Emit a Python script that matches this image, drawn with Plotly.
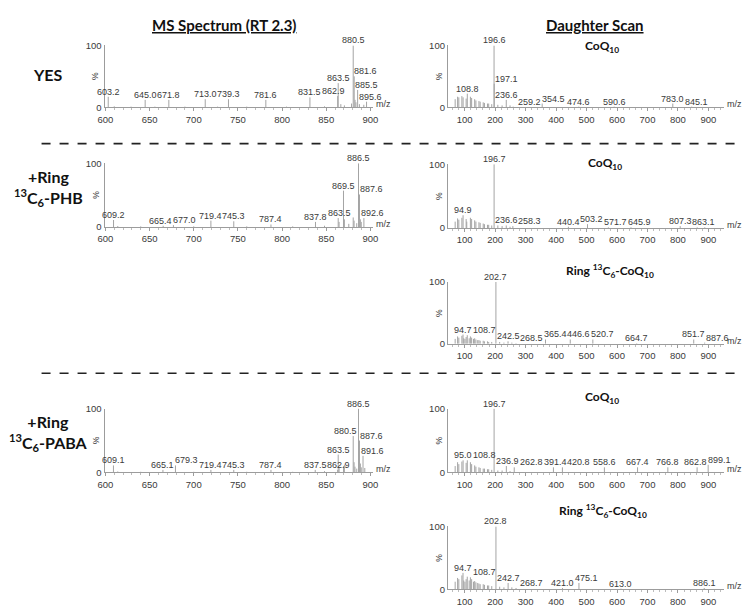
import plotly.graph_objects as go

# page is 755x615; the html body has an 8px margin, so the figure itself is 16px smaller
PAGE_W, PAGE_H, BODY = 755, 615, 8
W, H = PAGE_W - 2 * BODY, PAGE_H - 2 * BODY
SHIFT_X, SHIFT_Y = -2, -3


def PX(x):
    return (x + SHIFT_X - BODY) / W


def PY(y):
    return 1 - (y + SHIFT_Y - BODY) / H


# ---------------- data ----------------
# MS spectrum (RT 2.3), YES
ms_yes_mz = [603.2, 645.0, 671.8, 713.0, 739.3, 781.6, 831.5, 862.9, 863.5, 880.5, 881.6, 885.5, 895.6]
ms_yes_int = [17, 12, 12, 13, 13, 12, 16, 18, 39, 100, 50, 28, 9]
ms_yes_minor_mz = [610, 629, 656, 690, 727, 760, 805, 848, 866.5, 870.5, 878.6, 882.6, 883.6, 887.5, 892.5]
ms_yes_minor_int = [1.5, 1, 1, 1, 1, 1, 1, 1.5, 5, 3, 6, 12, 8, 5, 4]

# MS spectrum, +Ring 13C6-PHB
ms_phb_mz = [609.2, 665.4, 677.0, 719.4, 745.3, 787.4, 837.8, 863.5, 869.5, 886.5, 887.6, 892.6]
ms_phb_int = [11, 2, 3, 10, 9, 4, 8, 14, 57, 100, 51, 14]
ms_phb_minor_mz = [614, 640, 700, 760, 812, 848, 864.5, 870.5, 875.5, 880.5, 881.5, 884.5, 888.6, 889.6]
ms_phb_minor_int = [1.5, 1, 1, 1, 1, 2, 8, 12, 5, 15, 10, 6, 12, 8]

# MS spectrum, +Ring 13C6-PABA
ms_paba_mz = [609.1, 665.1, 679.3, 719.4, 745.3, 787.4, 837.5, 862.9, 863.5, 880.5, 886.5, 887.6, 891.6, 893.6]
ms_paba_int = [11, 4, 11, 4, 4, 4, 4, 4, 28, 57, 100, 50, 26, 7]
ms_paba_minor_mz = [614, 640, 700, 760, 812, 848, 864.5, 869.5, 870.5, 881.5, 882.5, 884.5, 888.6, 889.6]
ms_paba_minor_int = [1.5, 1, 1, 1, 1, 2, 8, 10, 12, 16, 9, 6, 14, 8]

# Daughter scan, YES, CoQ10
ds_yes_mz = [108.8, 196.6, 197.1, 236.6, 259.2, 354.5, 474.6, 590.6, 783.0, 845.1]
ds_yes_int = [22, 100, 38, 12, 1, 6, 1, 1, 6, 1]
ds_yes_minor_mz = [69, 77, 81, 91, 95, 105, 119, 123, 133, 137, 147, 151, 161, 165, 175, 179, 189, 209, 223, 249]
ds_yes_minor_int = [13, 17, 16, 18, 16, 14, 17, 15, 13, 11, 10, 9, 8, 7, 6, 6, 5, 4, 3, 3]

# Daughter scan, PHB, CoQ10
ds_phb_mz = [94.9, 196.7, 236.6, 258.3, 440.4, 503.2, 571.7, 645.9, 807.3, 863.1, 888.0]
ds_phb_int = [20, 100, 4, 3, 2, 6, 1, 1, 3, 1, 1]
ds_phb_minor_mz = [69, 77, 81, 91, 105, 107, 119, 123, 133, 137, 147, 151, 161, 165, 175, 179, 189, 209, 223, 249]
ds_phb_minor_int = [10, 15, 13, 16, 14, 10, 16, 14, 12, 10, 9, 8, 7, 6, 5, 5, 4, 4, 3, 2]

# Daughter scan, PHB, Ring 13C6-CoQ10
ds_phb_ring_mz = [94.7, 108.7, 202.7, 242.5, 268.5, 365.4, 446.6, 520.7, 664.7, 851.7, 887.6]
ds_phb_ring_int = [15, 14, 100, 4, 1, 7, 7, 7, 1, 7, 2]
ds_phb_ring_minor_mz = [69, 77, 81, 91, 97, 101, 105, 115, 119, 123, 129, 133, 137, 143, 147, 151, 161, 165, 175, 179, 189, 215, 229, 255]
ds_phb_ring_minor_int = [8, 12, 10, 13, 9, 8, 11, 9, 12, 10, 8, 9, 7, 6, 6, 5, 5, 4, 4, 3, 3, 3, 2, 2]

# Daughter scan, PABA, CoQ10
ds_paba_mz = [95.0, 108.8, 196.7, 236.9, 262.8, 391.4, 420.8, 558.6, 667.4, 766.8, 862.8, 899.1]
ds_paba_int = [19, 19, 100, 10, 8, 8, 8, 8, 8, 8, 8, 12]
ds_paba_minor_mz = [69, 77, 81, 91, 105, 119, 123, 133, 137, 147, 151, 161, 165, 175, 179, 189, 209, 223, 249]
ds_paba_minor_int = [10, 16, 13, 17, 15, 16, 13, 11, 9, 8, 7, 6, 6, 5, 5, 4, 3, 3, 2]

# Daughter scan, PABA, Ring 13C6-CoQ10
ds_paba_ring_mz = [94.7, 108.7, 202.8, 242.7, 268.7, 421.0, 475.1, 613.0, 886.1]
ds_paba_ring_int = [26, 20, 100, 10, 2, 2, 10, 1, 2]
ds_paba_ring_minor_mz = [69, 77, 81, 91, 97, 101, 105, 115, 119, 123, 129, 133, 137, 143, 147, 151, 161, 165, 175, 179, 189, 215, 229, 255]
ds_paba_ring_minor_int = [12, 18, 16, 22, 14, 12, 16, 14, 19, 16, 12, 13, 11, 10, 9, 8, 8, 7, 6, 6, 5, 4, 3, 3]

ms_ticks = [600, 650, 700, 750, 800, 850, 900]
ds_ticks = [100, 200, 300, 400, 500, 600, 700, 800, 900]

col_headers = ["MS Spectrum (RT 2.3)", "Daughter Scan"]
row_labels = ["YES", "+Ring<br><sup>13</sup>C<sub>6</sub>-PHB", "+Ring<br><sup>13</sup>C<sub>6</sub>-PABA"]
coq = "CoQ<sub>10</sub>"
ring_coq = "Ring <sup>13</sup>C<sub>6</sub>-CoQ<sub>10</sub>"

# ---------------- layout geometry (page pixels) ----------------
COL = {
    "L": dict(x0=101, x1=374, rng=[599, 903], ticks=ms_ticks, minor=10),
    "R": dict(x0=450, x1=731, rng=[45, 952], ticks=ds_ticks, minor=20),
}
# (mz, int, minor_mz, minor_int, column, px of 100-line, px of 0-line, title, title_x, title_y)
PANELS = [
    (ms_yes_mz, ms_yes_int, ms_yes_minor_mz, ms_yes_minor_int, "L", 43, 106, None, 0, 0),
    (ms_phb_mz, ms_phb_int, ms_phb_minor_mz, ms_phb_minor_int, "L", 163, 228, None, 0, 0),
    (ms_paba_mz, ms_paba_int, ms_paba_minor_mz, ms_paba_minor_int, "L", 413, 478, None, 0, 0),
    (ds_yes_mz, ds_yes_int, ds_yes_minor_mz, ds_yes_minor_int, "R", 43, 106, coq, 607, 44),
    (ds_phb_mz, ds_phb_int, ds_phb_minor_mz, ds_phb_minor_int, "R", 164, 229, coq, 610, 163),
    (ds_phb_ring_mz, ds_phb_ring_int, ds_phb_ring_minor_mz, ds_phb_ring_minor_int, "R", 284, 347, ring_coq, 615, 273),
    (ds_paba_mz, ds_paba_int, ds_paba_minor_mz, ds_paba_minor_int, "R", 413, 478, coq, 607, 402),
    (ds_paba_ring_mz, ds_paba_ring_int, ds_paba_ring_minor_mz, ds_paba_ring_minor_int, "R", 533, 597, ring_coq, 608, 517),
]

NUM_FONT = "Liberation Sans, Arial, sans-serif"
HEAD_FONT = "Lato, Open Sans, sans-serif"
LAB_FS = 9
TEXT_COL = "#3a3a3a"
AX_COL = "#9c9c9c"
STICK_COL = "#a4a4a4"


def text_w(s, fs):
    return sum(0.556 * fs if ch.isdigit() else 0.278 * fs for ch in s)


def place_labels(mz, inten, mmz, mint, upx, pct_per_px, fs):
    sticks = list(zip(mz, inten)) + list(zip(mmz, mint))
    lab_h = fs * 1.25 * pct_per_px
    gap = 1.5 * upx
    placed = []
    for m, h in sorted(zip(mz, inten)):
        txt = f"{m:.1f}"
        hw = text_w(txt, fs) / 2 * upx
        cx = m
        taller = [s for s, sh in sticks if sh > h and s != m]
        for _ in range(10):
            inside = [s for s in taller if cx - hw < s < cx + hw]
            if not inside:
                break
            left = [s for s in inside if s < m]
            right = [s for s in inside if s > m]
            if left:
                cx = max(left) + gap + hw
            else:
                cx = min(right) - gap - hw
        b, t = h, h + lab_h
        for _ in range(10):
            clash = [q for q in placed if q["b"] < t and b < q["t"] and q["l"] < cx + hw and cx - hw < q["r"]]
            if not clash:
                break
            cx = max(q["r"] for q in clash) + gap + hw
        placed.append(dict(x=cx, l=cx - hw, r=cx + hw, b=b, t=t, txt=txt))
    return placed


fig = go.Figure()
annotations = []
lay = {}

for i, (mz, inten, mmz, mint, col, ytop, ybot, title, tx, ty) in enumerate(PANELS, start=1):
    c = COL[col]
    xs, ys = [], []
    for m, h in zip(list(mmz) + list(mz), list(mint) + list(inten)):
        xs += [m, m, None]
        ys += [0, h, None]
    fig.add_trace(go.Scatter(x=xs, y=ys, mode="lines", line=dict(color=STICK_COL, width=1),
                             xaxis=f"x{i}", yaxis=f"y{i}", hoverinfo="skip", showlegend=False))
    xk = "xaxis" if i == 1 else f"xaxis{i}"
    yk = "yaxis" if i == 1 else f"yaxis{i}"
    lay[xk] = dict(domain=[PX(c["x0"]), PX(c["x1"])], range=c["rng"], anchor=f"y{i}",
                   showline=True, linecolor=AX_COL, linewidth=1, showgrid=False, zeroline=False,
                   ticks="outside", ticklen=3, tickcolor=AX_COL, tickvals=c["ticks"],
                   minor=dict(dtick=c["minor"], ticks="outside", ticklen=2, tickcolor="#bdbdbd"),
                   tickfont=dict(family=NUM_FONT, size=9.5, color=TEXT_COL), fixedrange=True)
    lay[yk] = dict(domain=[PY(ybot), PY(ytop)], range=[0, 100], anchor=f"x{i}",
                   showline=True, linecolor=AX_COL, linewidth=1, showgrid=False, zeroline=False,
                   ticks="", tickvals=[0, 100], tickfont=dict(family=NUM_FONT, size=9.5, color=TEXT_COL),
                   fixedrange=True)
    upx = (c["rng"][1] - c["rng"][0]) / (c["x1"] - c["x0"])
    pct_per_px = 100 / (ybot - ytop)
    for q in place_labels(mz, inten, mmz, mint, upx, pct_per_px, LAB_FS):
        annotations.append(dict(x=q["x"], y=q["b"], xref=f"x{i}", yref=f"y{i}", text=q["txt"],
                                showarrow=False, xanchor="center", yanchor="bottom", yshift=-2,
                                font=dict(family=NUM_FONT, size=LAB_FS, color=TEXT_COL)))
    # % label and m/z label
    annotations.append(dict(x=PX(c["x0"] - 9), y=PY((ytop + ybot) / 2), xref="paper", yref="paper",
                            text="%", textangle=-90, showarrow=False, xanchor="center", yanchor="middle",
                            font=dict(family=NUM_FONT, size=8.5, color=TEXT_COL)))
    annotations.append(dict(x=PX(c["x1"] + 1), y=PY(ybot - 3), xref="paper", yref="paper",
                            text="m/z", showarrow=False, xanchor="left", yanchor="middle",
                            font=dict(family=NUM_FONT, size=9, color=TEXT_COL)))
    if title:
        annotations.append(dict(x=PX(tx), y=PY(ty), xref="paper", yref="paper", text=f"<b>{title}</b>",
                                showarrow=False, xanchor="center", yanchor="middle",
                                font=dict(family=HEAD_FONT, size=12, color="#111")))

# column headers
for txt, x in zip(col_headers, [222, 600]):
    annotations.append(dict(x=PX(x), y=1, xref="paper", yref="paper", text=f"<b><u>{txt}</u></b>",
                            showarrow=False, xanchor="center", yanchor="top",
                            font=dict(family=HEAD_FONT, size=15, color="#111")))
# row labels
for txt, y in zip(row_labels, [73, 188, 438]):
    annotations.append(dict(x=PX(44), y=PY(y), xref="paper", yref="paper", text=f"<b>{txt}</b>",
                            showarrow=False, xanchor="center", yanchor="middle", align="center",
                            font=dict(family=HEAD_FONT, size=16, color="#111")))

shapes = []
for y in [143, 377]:
    shapes.append(dict(type="line", xref="paper", yref="paper", x0=PX(37), x1=PX(748),
                       y0=PY(y), y1=PY(y), line=dict(color="#222", width=1.6, dash="dash")))

fig.update_layout(width=W, height=H, margin=dict(l=0, r=0, t=0, b=0),
                  paper_bgcolor="white", plot_bgcolor="white",
                  annotations=annotations, shapes=shapes, **lay)

fig.write_html("out.html")
